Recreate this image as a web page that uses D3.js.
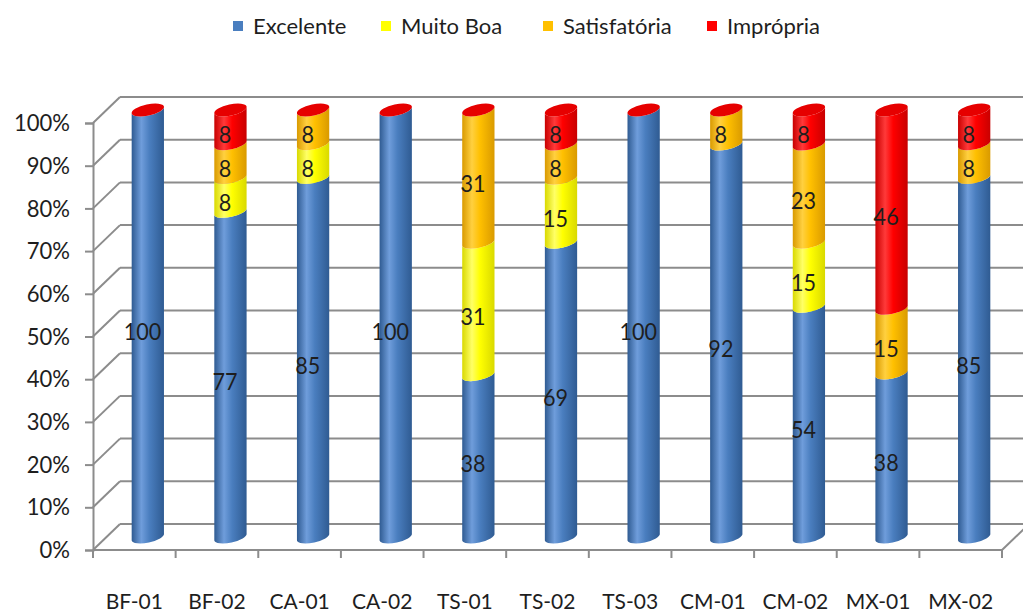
<!DOCTYPE html>
<html>
<head>
<meta charset="utf-8">
<script src="https://cdn.jsdelivr.net/npm/d3@7"></script>
<style>
  html, body { margin: 0; padding: 0; background: #fff; }
  svg { display: block; }
  text { font-family: Lato, "Open Sans", sans-serif; fill: #1e1e1e; }
</style>
</head>
<body>
<svg id="chart" width="1023" height="614"></svg>
<script>
// Pontos de amostragem
const categories = ["BF-01", "BF-02", "CA-01", "CA-02", "TS-01", "TS-02", "TS-03", "CM-01", "CM-02", "MX-01", "MX-02"];
// Percentual de amostras em cada classe de balneabilidade
const excelente    = [100, 77, 85, 100, 38, 69, 100, 92, 54, 38, 85];
const muitoBoa     = [0, 8, 8, 0, 31, 15, 0, 0, 15, 0, 0];
const satisfatoria = [0, 8, 8, 0, 31, 8, 0, 8, 23, 15, 8];
const impropria    = [0, 8, 0, 0, 0, 8, 0, 0, 8, 46, 8];
const seriesNames = ["Excelente", "Muito Boa", "Satisfatória", "Imprópria"];
const yTicks = [0, 0.1, 0.2, 0.3, 0.4, 0.5, 0.6, 0.7, 0.8, 0.9, 1.0];

const seriesValues = [excelente, muitoBoa, satisfatoria, impropria];
const colors = {
  "Excelente":    { base: "#4a7ebf", light: "#6f9ddb", dark: "#2f5b92" },
  "Muito Boa":    { base: "#ffff00", light: "#ffff66", dark: "#d9d900" },
  "Satisfatória": { base: "#ffc000", light: "#ffd040", dark: "#d99a00" },
  "Imprópria":    { base: "#ff0000", light: "#ff3a3a", dark: "#c80000" }
};
const fontStack = "Lato, 'Open Sans', sans-serif";

const svg = d3.select("#chart");

// rows for d3.stack, normalised per sample point (100% stacked)
const rows = categories.map((c, i) => {
  const r = { cat: c };
  seriesNames.forEach((s, k) => r[s] = seriesValues[k][i]);
  return r;
});
const stacked = d3.stack().keys(seriesNames).offset(d3.stackOffsetExpand)(rows);

// projection: front plane plus an oblique depth offset
const depthX = 27, depthY = -26;
const x = d3.scaleBand().domain(categories).range([93, 1002]).paddingInner(0).paddingOuter(0);
const y = d3.scaleLinear().domain([0, 1]).range([550, 123]);

// gradients for the cylinder shading
const defs = svg.append("defs");
seriesNames.forEach((s, k) => {
  const g = defs.append("linearGradient").attr("id", "grad" + k)
    .attr("x1", "0%").attr("x2", "100%").attr("y1", "0%").attr("y2", "0%");
  g.append("stop").attr("offset", "0%").attr("stop-color", colors[s].dark);
  g.append("stop").attr("offset", "30%").attr("stop-color", colors[s].light);
  g.append("stop").attr("offset", "55%").attr("stop-color", colors[s].base);
  g.append("stop").attr("offset", "100%").attr("stop-color", colors[s].dark);
});

const grid = svg.append("g").attr("stroke", "#8c8c8c").attr("stroke-width", 2).attr("fill", "none");
const xLeft = x.range()[0], xRight = x.range()[1];

// back wall gridlines and left wall diagonals
grid.selectAll("line.back").data(yTicks).join("line")
  .attr("x1", xLeft + depthX).attr("x2", 1040)
  .attr("y1", d => y(d) + depthY).attr("y2", d => y(d) + depthY);
grid.selectAll("line.side").data(yTicks).join("line")
  .attr("x1", xLeft).attr("x2", xLeft + depthX)
  .attr("y1", d => y(d)).attr("y2", d => y(d) + depthY);
// floor front edge and right floor edge
grid.append("line").attr("x1", xLeft).attr("x2", xRight).attr("y1", y(0)).attr("y2", y(0));
grid.append("line").attr("x1", xRight).attr("x2", xRight + depthX).attr("y1", y(0)).attr("y2", y(0) + depthY);

// y axis
const yAxis = svg.append("g").attr("transform", `translate(${xLeft},0)`)
  .call(d3.axisLeft(y).tickValues(yTicks).tickFormat(d3.format(".0%")).tickSize(8).tickPadding(17));
yAxis.select(".domain").attr("stroke", "#8c8c8c").attr("stroke-width", 2);
yAxis.selectAll(".tick line").attr("stroke", "#8c8c8c").attr("stroke-width", 2);
yAxis.selectAll("text").style("font-size", "24px").attr("fill", "#1e1e1e")
  .attr("transform", "scale(0.92,1)")
  .style("font-family", fontStack);

// x axis: ticks on category boundaries, labels at centres
const bounds = categories.map(c => x(c)).concat([xRight]);
svg.append("g").selectAll("line").data(bounds).join("line")
  .attr("x1", d => d).attr("x2", d => d).attr("y1", y(0)).attr("y2", y(0) + 8)
  .attr("stroke", "#8c8c8c").attr("stroke-width", 2);
const xAxis = svg.append("g").attr("transform", `translate(0,${y(0) + 59})`)
  .call(d3.axisBottom(x).tickSize(0).tickPadding(0));
xAxis.select(".domain").remove();
xAxis.selectAll("text").style("font-size", "21px").attr("fill", "#1e1e1e").attr("dy", "0")
  .style("font-family", fontStack);

// cylinders
const r = 16.5, ry = 5.5, tilt = -12;
const tr = tilt * Math.PI / 180;
const ex = r * Math.cos(tr), ey = r * Math.sin(tr);
const cyl = svg.append("g");
function cx(c) { return x(c) + x.bandwidth() / 2 + depthX / 2; }
function cy(v) { return y(v) + depthY / 2; }

categories.forEach((c, i) => {
  const g = cyl.append("g");
  stacked.forEach((layer, k) => {
    const d = layer[i];
    if (d[1] - d[0] <= 0) return;
    const X = cx(c), y0 = cy(d[0]), y1 = cy(d[1]);
    const p = `M${X - ex},${y1 - ey} L${X - ex},${y0 - ey} ` +
      `A${r},${ry} ${tilt} 0 0 ${X + ex},${y0 + ey} ` +
      `L${X + ex},${y1 + ey} A${r},${ry} ${tilt} 0 1 ${X - ex},${y1 - ey} Z`;
    g.append("path").attr("d", p).attr("fill", `url(#grad${k})`);
  });
  // top cap carries the colour of the last series
  const top = stacked[stacked.length - 1][i][1];
  g.append("ellipse").attr("cx", cx(c)).attr("cy", cy(top)).attr("rx", r).attr("ry", ry)
    .attr("transform", `rotate(${tilt},${cx(c)},${cy(top)})`)
    .attr("fill", "#e60000");
});

// value labels
const labels = svg.append("g");
stacked.forEach((layer, k) => {
  categories.forEach((c, i) => {
    const v = seriesValues[k][i];
    if (!v) return;
    const d = layer[i];
    const lx = x(c) + x.bandwidth() / 2 + depthX * 0.3;
    const ly = y((d[0] + d[1]) / 2) + depthY * 0.2;
    labels.append("text")
      .attr("transform", `translate(${lx},${ly}) scale(0.9,1)`)
      .attr("text-anchor", "middle").attr("dy", "0.35em")
      .style("font-size", "24px").text(v);
  });
});

// legend
const legendX = [233, 381, 543, 707];
const legend = svg.append("g");
seriesNames.forEach((s, k) => {
  legend.append("rect").attr("x", legendX[k]).attr("y", 21).attr("width", 10).attr("height", 10)
    .attr("fill", colors[s].base);
  legend.append("text").attr("x", legendX[k] + 20).attr("y", 26).attr("dy", "0.35em")
    .style("font-size", "22px").text(s);
});
</script>
</body>
</html>
